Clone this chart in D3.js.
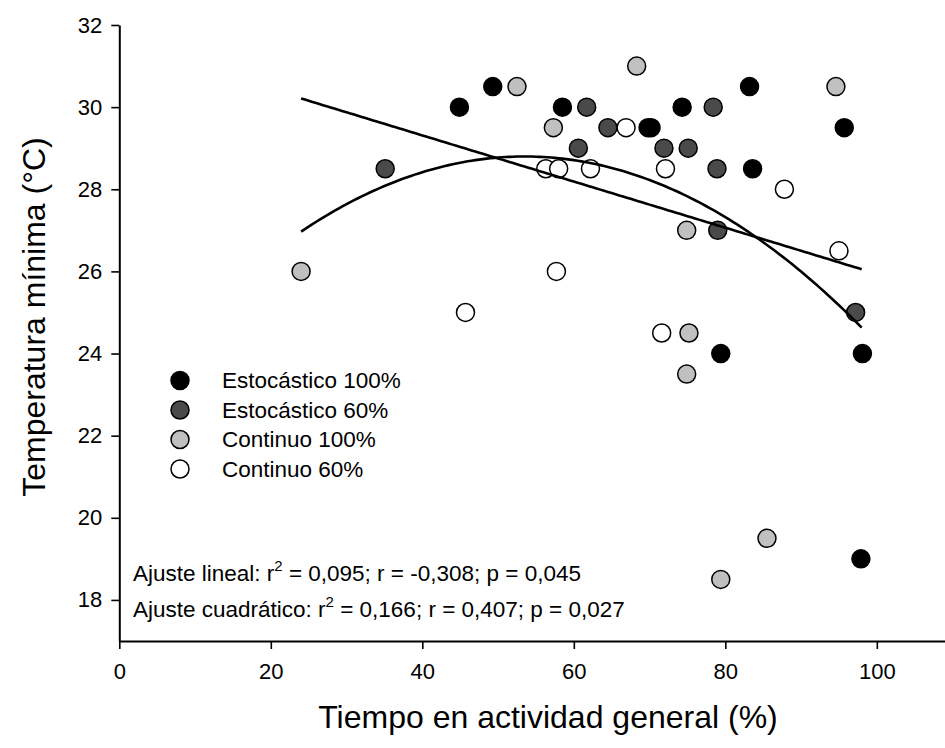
<!DOCTYPE html>
<html>
<head>
<meta charset="utf-8">
<script src="https://cdn.jsdelivr.net/npm/d3@7"></script>
<style>
	html, body { margin: 0; padding: 0; background: #fff; }
	#chart { width: 945px; height: 748px; }
	text { font-family: "Liberation Sans", Arial, sans-serif; fill: #000; }
	.axis path, .axis line { stroke: #000; }
	.axis text { font-size: 22px; }
</style>
</head>
<body>
<div id="chart"></div>
<script>
"use strict"

// values
const estocastico100X = [44.9, 49.3, 58.5, 74.3, 83.2, 69.8, 70.2, 95.7, 83.6, 79.4, 98.1, 97.9];
const estocastico100Y = [30, 30.5, 30, 30, 30.5, 29.5, 29.5, 29.5, 28.5, 24, 24, 19];

const estocastico60X = [61.7, 78.4, 64.5, 60.6, 71.9, 75.1, 35.1, 78.9, 79.0, 97.2];
const estocastico60Y = [30, 30, 29.5, 29, 29, 29, 28.5, 28.5, 27, 25];

const continuo100X = [68.3, 52.5, 94.6, 57.3, 74.9, 24.0, 75.2, 74.9, 85.5, 79.4];
const continuo100Y = [31, 30.5, 30.5, 29.5, 27, 26, 24.5, 23.5, 19.5, 18.5];

const continuo60X = [66.9, 56.3, 58.0, 62.2, 72.1, 87.8, 95.0, 57.7, 45.7, 71.6];
const continuo60Y = [29.5, 28.5, 28.5, 28.5, 28.5, 28, 26.5, 26, 25, 24.5];

const seriesNames = ["Estocástico 100%", "Estocástico 60%", "Continuo 100%", "Continuo 60%"];

// fitted curves (coefficients of y = c0 + c1*x + c2*x^2), drawn over x = 24..98
const linearCoef = [31.56, -0.0562, 0];
const quadCoef = [22.78, 0.2250, -0.002103];
const fitRange = [24, 98];

const xTicks = [0, 20, 40, 60, 80, 100];
const yTicks = [18, 20, 22, 24, 26, 28, 30, 32];

const fitLines = [
	"Ajuste lineal: r|2| = 0,095; r = -0,308; p = 0,045",
	"Ajuste cuadrático: r|2| = 0,166; r = 0,407; p = 0,027"
];

var App = App || {};

let ScatterView = function(targetID) {
	let self = {
		targetID: "",
		target: null,
		svg: null,
		totalWidth: 945,
		totalHeight: 748,

		xScale: d3.scaleLinear(),
		yScale: d3.scaleLinear(),
		fills: ["#000000", "#4a4a4a", "#c0c0c0", "#ffffff"],
		series: [],
	}

	init();

	function init() {
		self.targetID = targetID;
		let xs = [estocastico100X, estocastico60X, continuo100X, continuo60X];
		let ys = [estocastico100Y, estocastico60Y, continuo100Y, continuo60Y];
		self.series = seriesNames.map((name, i) => ({
			name: name,
			fill: self.fills[i],
			points: xs[i].map((x, j) => ({x: x, y: ys[i][j]}))
		}));
	}

	function draw() {
		self.target = d3.select(self.targetID);
		self.svg = self.target.append("svg")
			.attr("width", self.totalWidth)
			.attr("height", self.totalHeight);

		self.xScale.domain([0, 109]).range([119.3, 945]);
		self.yScale.domain([17, 32]).range([641, 25]);

		drawAxes();
		drawPoints();
		drawFits();
		drawLegend();
		drawNotes();
	}

	function drawAxes() {
		self.svg.append("g")
			.attr("class", "axis y")
			.attr("transform", `translate(${self.xScale(0)},0)`)
			.call(d3.axisLeft(self.yScale).tickValues(yTicks).tickSize(8).tickSizeOuter(0).tickPadding(9));

		self.svg.append("g")
			.attr("class", "axis x")
			.attr("transform", `translate(0,${self.yScale(17)})`)
			.call(d3.axisBottom(self.xScale).tickValues(xTicks).tickSize(8).tickSizeOuter(0).tickPadding(14));

		self.svg.selectAll(".axis .domain").attr("stroke-width", 2);
		self.svg.selectAll(".axis .tick line").attr("stroke-width", 1.6);

		self.svg.append("text")
			.attr("x", 548)
			.attr("y", 728)
			.attr("text-anchor", "middle")
			.attr("font-size", 32)
			.text("Tiempo en actividad general (%)");

		self.svg.append("text")
			.attr("transform", "translate(45,317) rotate(-90)")
			.attr("text-anchor", "middle")
			.attr("font-size", 32)
			.text("Temperatura mínima (°C)");
	}

	function drawPoints() {
		self.series.forEach(s => {
			self.svg.append("g")
				.selectAll("circle")
				.data(s.points)
				.enter().append("circle")
					.attr("cx", d => self.xScale(d.x))
					.attr("cy", d => self.yScale(d.y))
					.attr("r", 9)
					.attr("fill", s.fill)
					.attr("stroke", "#000")
					.attr("stroke-width", 1.5);
		});
	}

	function drawFits() {
		let xs = d3.range(fitRange[0], fitRange[1] + 0.001, 0.5);
		let line = d3.line()
			.x(d => self.xScale(d.x))
			.y(d => self.yScale(d.y));

		[linearCoef, quadCoef].forEach(c => {
			self.svg.append("path")
				.datum(xs.map(x => ({x: x, y: c[0] + c[1]*x + c[2]*x*x})))
				.attr("d", line)
				.attr("fill", "none")
				.attr("stroke", "#000")
				.attr("stroke-width", 2.6);
		});
	}

	function drawLegend() {
		let legend = self.svg.append("g")
			.selectAll("g")
			.data(self.series)
			.enter().append("g")
				.attr("transform", (d, i) => "translate(180," + (388 + i*29.5) + ")");

		legend.append("circle")
			.attr("cy", -7.5)
			.attr("r", 9)
			.attr("fill", d => d.fill)
			.attr("stroke", "#000")
			.attr("stroke-width", 1.5);

		legend.append("text")
			.attr("x", 42)
			.attr("font-size", 22.5)
			.text(d => d.name);
	}

	function drawNotes() {
		fitLines.forEach((str, i) => {
			let parts = str.split("|");
			let t = self.svg.append("text")
				.attr("x", 133)
				.attr("y", 581 + i*36)
				.attr("font-size", 22.5);
			t.append("tspan").text(parts[0]);
			t.append("tspan").attr("dy", -10).attr("font-size", 15).text(parts[1]);
			t.append("tspan").attr("dy", 10).text(parts[2]);
		});
	}

	return {
		draw,
	};
}

App.scatter = ScatterView("#chart");
App.scatter.draw();
</script>
</body>
</html>
